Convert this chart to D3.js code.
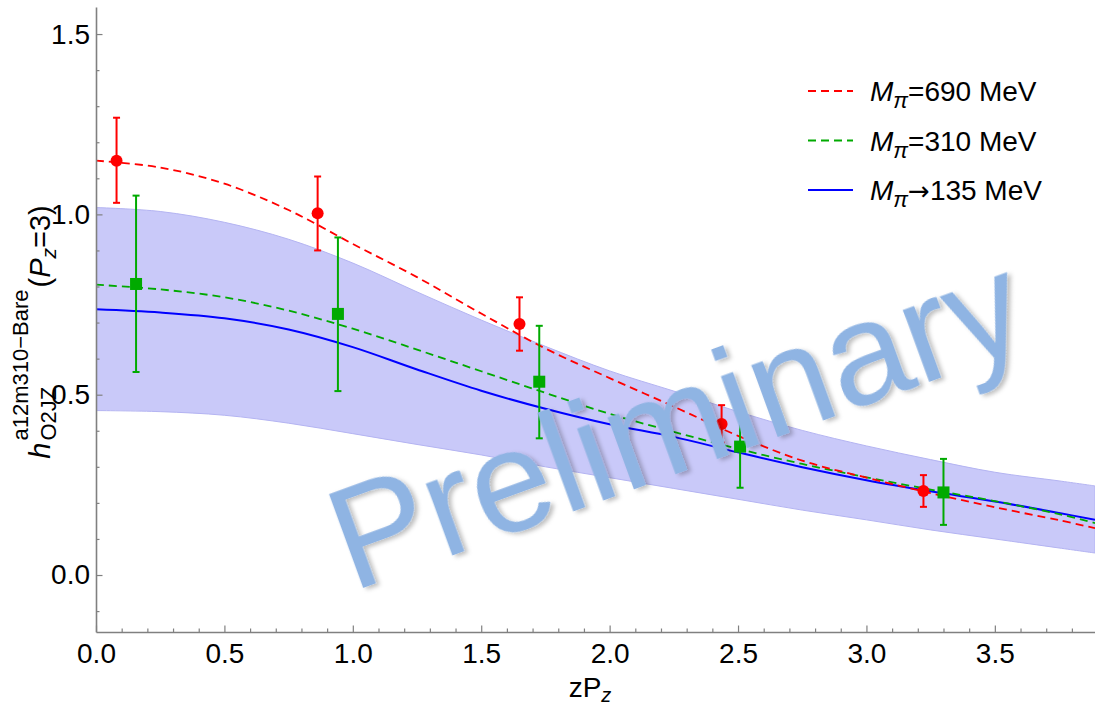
<!DOCTYPE html>
<html>
<head>
<meta charset="utf-8">
<script src="https://cdn.jsdelivr.net/npm/d3@7"></script>
<style>
  body { margin: 0; background: #fff; }
  svg { display: block; font-family: "Liberation Sans", Arial, sans-serif; }
</style>
</head>
<body>
<div id="chart"></div>
<script>
// fit curves, sampled on a zP_z grid
const zGrid = [0, 0.25, 0.5, 0.75, 1.0, 1.25, 1.5, 1.75, 2.0, 2.25, 2.5, 2.75, 3.0, 3.25, 3.5, 3.75, 3.89];
const fit690 = [1.149, 1.130, 1.085, 1.012, 0.918, 0.826, 0.725, 0.628, 0.546, 0.467, 0.386, 0.317, 0.270, 0.227, 0.188, 0.152, 0.130];
const fit310 = [0.805, 0.792, 0.770, 0.733, 0.683, 0.625, 0.565, 0.505, 0.447, 0.397, 0.350, 0.308, 0.271, 0.237, 0.205, 0.169, 0.144];
const fit135 = [0.737, 0.728, 0.712, 0.681, 0.632, 0.570, 0.511, 0.461, 0.418, 0.383, 0.340, 0.299, 0.263, 0.232, 0.204, 0.172, 0.153];
const bandHi = [1.019, 1.008, 0.978, 0.931, 0.865, 0.785, 0.707, 0.634, 0.566, 0.510, 0.453, 0.401, 0.358, 0.320, 0.285, 0.261, 0.247];
const bandLo = [0.456, 0.453, 0.443, 0.421, 0.392, 0.362, 0.333, 0.300, 0.270, 0.240, 0.210, 0.180, 0.153, 0.125, 0.100, 0.075, 0.061];

// lattice points with error bars
const x690 = [0.080, 0.863, 1.649, 2.436, 3.222];
const y690 = [1.149, 1.003, 0.696, 0.419, 0.233];
const hi690 = [1.268, 1.105, 0.770, 0.471, 0.277];
const lo690 = [1.032, 0.900, 0.622, 0.367, 0.189];

const x310 = [0.156, 0.942, 1.726, 2.508, 3.300];
const y310 = [0.807, 0.724, 0.536, 0.356, 0.229];
const hi310 = [1.052, 0.936, 0.691, 0.473, 0.322];
const lo310 = [0.563, 0.510, 0.379, 0.242, 0.139];

const xTicks = [0, 0.5, 1.0, 1.5, 2.0, 2.5, 3.0, 3.5];
const yTicks = [0, 0.5, 1.0, 1.5];
const legendLabels = ["=690 MeV", "=310 MeV", "135 MeV"];

const W = 1095, H = 706;
const svg = d3.select("#chart").append("svg").attr("width", W).attr("height", H);

const x = d3.scaleLinear().domain([0, 3.89]).range([96, 1095]);
const y = d3.scaleLinear().domain([-0.158, 1.575]).range([632, 7]);

const defs = svg.append("defs");
defs.append("clipPath").attr("id", "plot")
  .append("rect").attr("x", 96).attr("y", 7).attr("width", W - 96).attr("height", 625);
defs.append("filter").attr("id", "shadow").attr("x", "-10%").attr("y", "-10%").attr("width", "120%").attr("height", "130%")
  .append("feDropShadow").attr("dx", 3).attr("dy", 3).attr("stdDeviation", 2)
  .attr("flood-color", "#000").attr("flood-opacity", 0.25);

const plot = svg.append("g").attr("clip-path", "url(#plot)");

// error band
const band = d3.area()
  .x((d, i) => x(zGrid[i]))
  .y0((d, i) => y(bandLo[i]))
  .y1((d, i) => y(bandHi[i]))
  .curve(d3.curveCatmullRom.alpha(0.5));
plot.append("path").datum(zGrid).attr("d", band)
  .attr("fill", "#c9c9f9").attr("stroke", "#b4b4f2").attr("stroke-width", 1);

function line(vals) {
  return d3.line().x((d, i) => x(zGrid[i])).y(d => y(d))
    .curve(d3.curveCatmullRom.alpha(0.5))(vals);
}

plot.append("path").attr("d", line(fit135)).attr("fill", "none")
  .attr("stroke", "#0000ff").attr("stroke-width", 2);
plot.append("path").attr("d", line(fit310)).attr("fill", "none")
  .attr("stroke", "#00aa00").attr("stroke-width", 1.8).attr("stroke-dasharray", "8,5");
plot.append("path").attr("d", line(fit690)).attr("fill", "none")
  .attr("stroke", "#ff0000").attr("stroke-width", 1.8).attr("stroke-dasharray", "8,5");

function errorBars(xv, yv, lo, hi, color) {
  const g = plot.append("g").attr("stroke", color).attr("stroke-width", 2);
  xv.forEach((xx, i) => {
    const cx = x(xx);
    g.append("line").attr("x1", cx).attr("x2", cx).attr("y1", y(lo[i])).attr("y2", y(hi[i]));
    g.append("line").attr("x1", cx - 3.5).attr("x2", cx + 3.5).attr("y1", y(lo[i])).attr("y2", y(lo[i]));
    g.append("line").attr("x1", cx - 3.5).attr("x2", cx + 3.5).attr("y1", y(hi[i])).attr("y2", y(hi[i]));
  });
}
errorBars(x690, y690, lo690, hi690, "#ff0000");
errorBars(x310, y310, lo310, hi310, "#00aa00");

plot.selectAll("circle.p690").data(x690).join("circle")
  .attr("cx", d => x(d)).attr("cy", (d, i) => y(y690[i])).attr("r", 6).attr("fill", "#ff0000");
plot.selectAll("rect.p310").data(x310).join("rect")
  .attr("x", d => x(d) - 6).attr("y", (d, i) => y(y310[i]) - 6)
  .attr("width", 12).attr("height", 12).attr("fill", "#00aa00");

// watermark
svg.append("text")
  .attr("transform", "translate(352,592) rotate(-20)")
  .attr("font-size", 145).attr("fill", "#8fb4e3").attr("filter", "url(#shadow)")
  .text("Preliminary");

// axes
const axisColor = "#808080";
function styleAxis(g) {
  g.selectAll(".domain").attr("stroke", axisColor).attr("stroke-width", 1.6);
  g.selectAll(".tick line").attr("stroke", axisColor).attr("stroke-width", 1.2);
  g.selectAll(".tick text").attr("fill", "#000").attr("font-size", 28)
    .attr("font-family", "'Liberation Sans', Arial, sans-serif");
}
const minorX = d3.range(0, 39).map(d => d / 10).filter(d => Math.round(d * 10) % 5 !== 0);
const minorY = d3.range(-1, 16).map(d => d / 10).filter(d => Math.round(d * 10) % 5 !== 0);

svg.append("g").attr("transform", "translate(0,632)")
  .call(d3.axisBottom(x).tickValues(minorX).tickSize(-3.5).tickSizeOuter(0).tickFormat(""))
  .call(g => g.select(".domain").remove()).call(styleAxis);
svg.append("g").attr("transform", "translate(0,632)")
  .call(d3.axisBottom(x).tickValues(xTicks).tickSize(-6.5).tickSizeOuter(0).tickPadding(11).tickFormat(d3.format(".1f")))
  .call(styleAxis);

svg.append("g").attr("transform", "translate(96,0)")
  .call(d3.axisLeft(y).tickValues(minorY).tickSize(-3.5).tickSizeOuter(0).tickFormat(""))
  .call(g => g.select(".domain").remove()).call(styleAxis);
svg.append("g").attr("transform", "translate(96,0)")
  .call(d3.axisLeft(y).tickValues(yTicks).tickSize(-6.5).tickSizeOuter(0).tickPadding(6).tickFormat(d3.format(".1f")))
  .call(styleAxis);

// x label
const xl = svg.append("text").attr("x", 590).attr("y", 697).attr("text-anchor", "middle")
  .attr("font-size", 28).attr("fill", "#000");
xl.append("tspan").text("zP");
xl.append("tspan").attr("font-size", 20).attr("font-style", "italic").attr("dy", 5).text("z");

// y label (rotated), built piece by piece
const yl = svg.append("g").attr("transform", "translate(50,332) rotate(-90)");
const hTxt = yl.append("text").attr("font-size", 29).attr("font-style", "italic").text("h");
const sup = yl.append("text").attr("font-size", 22).attr("y", -22).text("a12m310\u2212Bare");
const sub = yl.append("text").attr("font-size", 22).attr("y", 6).text("O2JZ");
const tail = yl.append("text").attr("font-size", 29);
tail.append("tspan").text("(");
tail.append("tspan").attr("font-style", "italic").text("P");
tail.append("tspan").attr("font-style", "italic").attr("font-size", 21).attr("dy", 6).text("z");
tail.append("tspan").attr("dy", -6).text("=3)");
const wh = hTxt.node().getComputedTextLength();
const ws = Math.max(sup.node().getComputedTextLength(), sub.node().getComputedTextLength());
const wt = tail.node().getComputedTextLength();
const total = wh + 2 + ws + 2 + wt;
const x0 = -total / 2;
hTxt.attr("x", x0);
sup.attr("x", x0 + wh + 2);
sub.attr("x", x0 + wh + 2);
tail.attr("x", x0 + wh + 2 + ws + 2);

// legend
const legendColors = ["#ff0000", "#00aa00", "#0000ff"];
const legendDash = ["8,5", "8,5", null];
legendLabels.forEach((lab, i) => {
  const ly = 91 + i * 49.5;
  svg.append("line").attr("x1", 808).attr("x2", 853).attr("y1", ly).attr("y2", ly)
    .attr("stroke", legendColors[i]).attr("stroke-width", i === 2 ? 2 : 1.8)
    .attr("stroke-dasharray", legendDash[i]);
  const t = svg.append("text").attr("x", 870).attr("y", ly + 10).attr("font-size", 28).attr("fill", "#000");
  t.append("tspan").attr("font-style", "italic").text("M");
  t.append("tspan").attr("font-style", "italic").attr("font-size", 22).attr("dy", 7).text("\u03c0");
  if (i === 2) {
    t.append("tspan").attr("dy", -7).attr("font-family", "'DejaVu Sans', sans-serif").attr("font-size", 26).text("\u2192");
    t.append("tspan").text(lab);
  } else {
    t.append("tspan").attr("dy", -7).text(lab);
  }
});
</script>
</body>
</html>
